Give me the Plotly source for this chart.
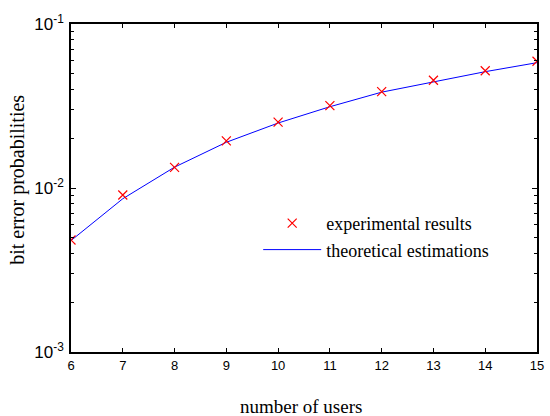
import plotly.graph_objects as go

users = [6, 7, 8, 9, 10, 11, 12, 13, 14, 15]
experimental = [4.82e-3, 9.06e-3, 1.336e-2, 1.94e-2, 2.52e-2, 3.18e-2, 3.87e-2, 4.54e-2, 5.19e-2, 5.93e-2]
theoretical = [4.78e-3, 8.6e-3, 1.34e-2, 1.90e-2, 2.49e-2, 3.13e-2, 3.84e-2, 4.45e-2, 5.12e-2, 5.81e-2]
y_tickvals = [1e-3, 1e-2, 1e-1]
y_ticktext = ["10<sup>-3</sup>", "10<sup>-2</sup>", "10<sup>-1</sup>"]
y_minor_mult = [2, 3, 4, 5, 6, 7, 8, 9]
x_tickvals = users

serif = "Liberation Serif, Times New Roman, serif"
sans = "Liberation Sans, Arial, sans-serif"

fig = go.Figure()
fig.add_trace(go.Scatter(
    x=users, y=theoretical, mode="lines", name="theoretical estimations",
    line=dict(color="blue", width=1), legendrank=2,
))
fig.add_trace(go.Scatter(
    x=users, y=experimental, mode="markers", name="experimental results",
    marker=dict(symbol="x-thin", size=9, line=dict(color="red", width=1.2), color="red"),
    legendrank=1,
))

W, H = 550, 416
l, r, t, b = 71, 6, 24, 64
pw, ph = W - l - r, H - t - b

def px(xp):
    return (xp - l) / pw

def py(yp):
    return (H - b - yp) / ph

fig.update_layout(
    width=W, height=H,
    margin=dict(l=l, r=r, t=t, b=b),
    paper_bgcolor="white", plot_bgcolor="white",
    showlegend=True,
    legend=dict(
        x=px(261), y=py(205), xanchor="left", yanchor="top",
        font=dict(family=serif, size=18, color="black"),
        bgcolor="rgba(0,0,0,0)", itemwidth=58, tracegroupgap=0,
    ),
    xaxis=dict(
        range=[6, 15], tickvals=x_tickvals, ticks="inside", ticklen=4,
        tickcolor="black", tickwidth=1, showline=True, linecolor="black",
        linewidth=1.5, mirror="ticks", showgrid=False, zeroline=False,
        tickfont=dict(family=sans, size=13, color="black"),
        ticklabelstandoff=1,
    ),
    yaxis=dict(
        type="log", range=[-3, -1], tickvals=y_tickvals, ticktext=y_ticktext,
        ticks="inside", ticklen=5, tickcolor="black", tickwidth=1,
        showline=True, linecolor="black", linewidth=1.5, mirror="ticks",
        showgrid=False, zeroline=False,
        tickfont=dict(family=sans, size=17, color="black"),
        ticklabelstandoff=2,
        minor=dict(ticks="inside", ticklen=3, tickcolor="black", tickwidth=1,
                   showgrid=False,
                   tickvals=[m * 10 ** e for e in (-3, -2) for m in y_minor_mult]),
    ),
    annotations=[
        dict(text="number of users", x=px(304), y=py(406), xref="paper", yref="paper",
             xanchor="center", yanchor="middle", showarrow=False,
             font=dict(family=serif, size=19, color="black")),
        dict(text="bit error probabilities", x=px(16), y=py(180), textangle=-90,
             xref="paper", yref="paper", xanchor="center", yanchor="middle",
             showarrow=False, font=dict(family=serif, size=20, color="black")),
    ],
)

fig.write_html("out.html", config={"displayModeBar": False},
               post_script="document.body.style.margin='0';")
